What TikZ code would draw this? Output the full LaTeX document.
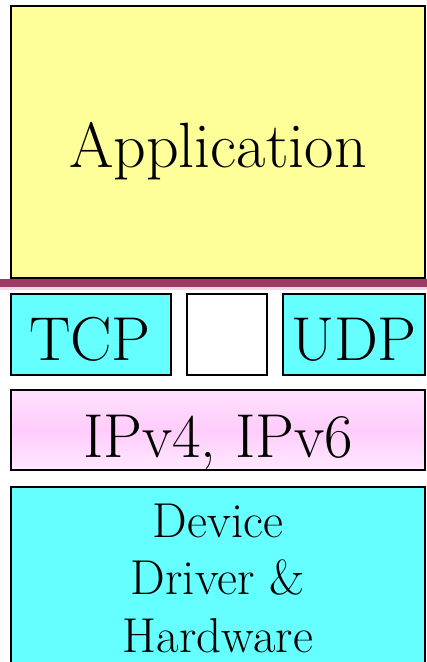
\documentclass[tikz,border=0pt]{standalone}
\definecolor{appyellow}{HTML}{FFFF99}
\definecolor{layercyan}{HTML}{66FFFF}
\definecolor{sepmaroon}{HTML}{9E3A64}
\definecolor{seppink}{HTML}{F4D8E8}
\definecolor{iptop}{HTML}{FFE2FF}
\definecolor{ipmid}{HTML}{FFCCFB}
\definecolor{ipbot}{HTML}{FFE8FF}
\begin{document}
\begin{tikzpicture}[x=1pt,y=-1pt,
  layer/.style={draw=black,line width=1.5pt},
  bigtext/.style={font=\fontsize{64}{64}\selectfont,inner sep=0pt},
  midtext/.style={font=\fontsize{62}{62}\selectfont,inner sep=0pt},
  smalltext/.style={font=\fontsize{49}{57.5}\selectfont,inner sep=0pt}]
  \useasboundingbox (0,0) rectangle (427,662);
  % application layer
  \draw[layer,fill=appyellow] (11,6) rectangle (425,278);
  \node[bigtext,anchor=base] (app) at (218,167) {Application};
  % socket boundary
  \fill[seppink] (0,287) rectangle (427,290);
  \fill[sepmaroon] (0,279) rectangle (427,287);
  % transport layer
  \draw[layer,fill=layercyan] (11,294) rectangle (171,375);
  \node[midtext,anchor=base] (tcp) at (90,360) {TCP};
  \draw[layer,fill=white] (187,294) rectangle (267,375);
  \draw[layer,fill=layercyan] (283,294) rectangle (425,375);
  \node[midtext,anchor=base] (udp) at (354,360) {UDP};
  % network layer
  \shade[top color=iptop,bottom color=ipbot,middle color=ipmid] (11,390) rectangle (425,470);
  \draw[layer] (11,390) rectangle (425,470);
  \node[midtext,anchor=base] (ip) at (218,457) {IPv4, IPv6};
  % link layer
  \draw[layer,fill=layercyan] (11,487) rectangle (425,675);
  \node[smalltext,anchor=base] (dev1) at (218,537) {Device};
  \node[smalltext,anchor=base] (dev2) at (218,594.5) {Driver \&};
  \node[smalltext,anchor=base] (dev3) at (218,652) {Hardware};
\end{tikzpicture}
\end{document}
